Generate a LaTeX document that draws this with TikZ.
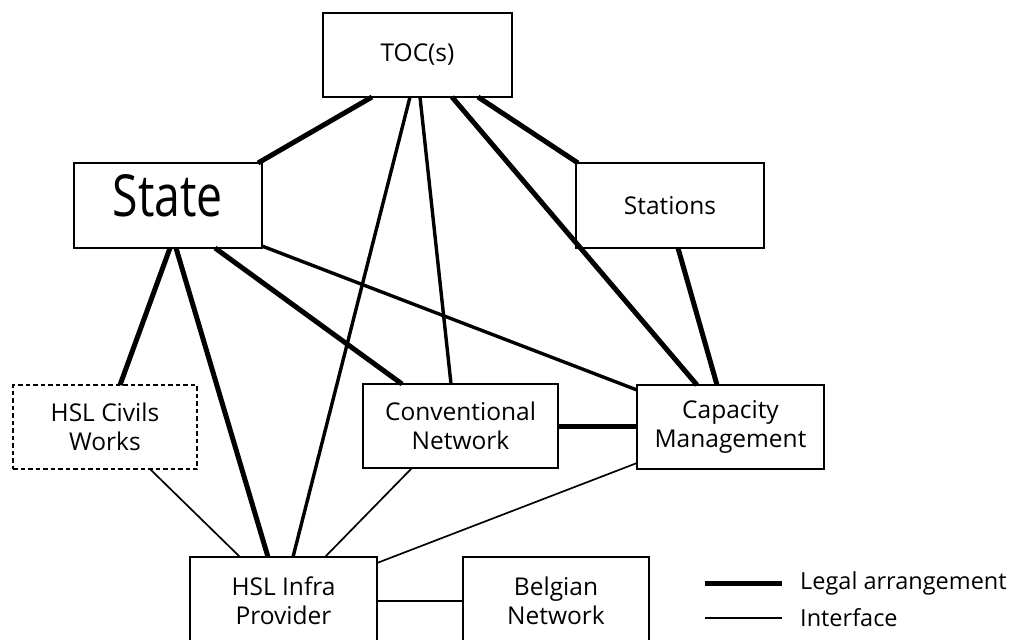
\documentclass[tikz,border=0pt]{standalone}
\usepackage{fontspec}
\setmainfont{Open Sans}
\usetikzlibrary{calc}
\begin{document}
\begin{tikzpicture}[x=1pt,y=-1pt,
  box/.style={draw, line width=1.2pt, inner sep=0pt, outer sep=0pt, align=center,
              font=\fontsize{24.5}{29}\selectfont, text=black},
  dbox/.style={box, line width=1.9pt, dash pattern=on 4.5pt off 3pt},
  legal/.style={line width=5pt},
  legalm/.style={line width=3.4pt},
  iface/.style={line width=1.7pt},
  lbl/.style={anchor=west, inner sep=0pt, font=\fontsize{23.5}{28}\selectfont}
]
\useasboundingbox (0,0) rectangle (1015,640);
\clip (0,0) rectangle (1015,640);

% boxes
\node[box, minimum width=189pt, minimum height=84pt] (toc) at (417.5,55) {TOC(s)};
\node[box, minimum width=188pt, minimum height=85pt] (state) at (168,205.5) {};
\node[inner sep=0pt, font=\fontsize{58}{62}\selectfont] (statetxt) at (168,196) {\scalebox{0.8}[1]{State}};
\node[box, minimum width=188pt, minimum height=85pt] (stations) at (670,205.5) {Stations};
\node[dbox, minimum width=184pt, minimum height=84pt] (civils) at (105,427) {HSL Civils\\Works};
\node[box, minimum width=195pt, minimum height=84pt] (conv) at (460.5,426) {Conventional\\Network};
\node[box, minimum width=187pt, minimum height=84pt] (cap) at (730.5,427) {Capacity\\Management};
\node[box, minimum width=187pt, minimum height=88pt] (infra) at (283.5,601) {HSL Infra\\Provider};
\node[box, minimum width=186pt, minimum height=88pt] (belg) at (556,601) {Belgian\\Network};

% legal arrangements (thick)
\draw[legal] ([xshift=-45.5pt]toc.south) -- ([xshift=-4pt]state.north east);
\draw[legal] ([xshift=34.5pt]toc.south) -- ([xshift=-33.5pt]cap.north);
\draw[legal] ([xshift=60.5pt]toc.south) -- ([xshift=2pt]stations.north west);
\draw[legalm] ([xshift=2.5pt]toc.south) -- ([xshift=-9.5pt]conv.north);
\draw[legalm] ([xshift=-7.5pt]toc.south) -- ([xshift=9.5pt]infra.north);
\draw[legal] ([xshift=2pt]state.south) -- ([xshift=15pt]civils.north);
\draw[legal] ([xshift=8pt]state.south) -- ([xshift=-15.5pt]infra.north);
\draw[legal] ([xshift=47pt]state.south) -- ([xshift=39pt]conv.north west);
\draw[legalm] ([yshift=2pt]state.south east) -- ([yshift=-5pt]cap.north west);
\draw[legal] ([xshift=8pt]stations.south) -- ([xshift=-13.5pt]cap.north);
\draw[legal] (conv.east) -- (conv.east -| cap.west);

% interfaces (thin)
\draw[iface] ([xshift=45pt]civils.south) -- ([xshift=-43.5pt]infra.north);
\draw[iface] ([xshift=-48.5pt]conv.south) -- ([xshift=41.5pt]infra.north);
\draw[iface] ([yshift=6pt]cap.south west) -- ([yshift=-6pt]infra.north east);
\draw[iface] (infra.east) -- (belg.west);

% legend
\coordinate (la1) at (705,583);
\coordinate (la2) at (782,583);
\coordinate (lb1) at (705,618);
\coordinate (lb2) at (782,618);
\draw[legal] (la1) -- (la2);
\draw[iface] (lb1) -- (lb2);
\node[lbl] (ltxt1) at (800,583) {Legal arrangement};
\node[lbl] (ltxt2) at (800,618) {Interface};
\end{tikzpicture}
\end{document}
